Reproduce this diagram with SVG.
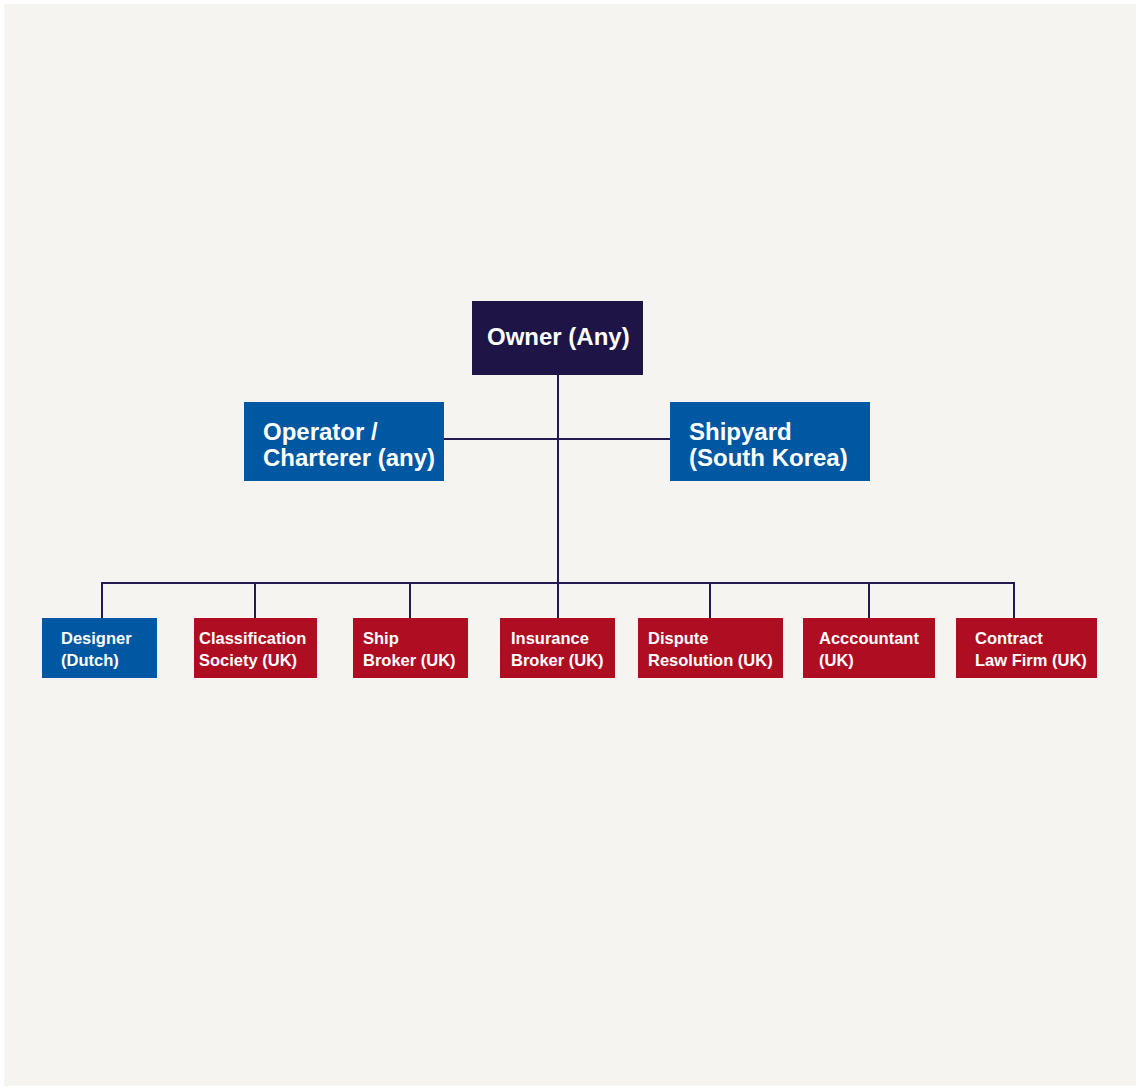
<svg xmlns="http://www.w3.org/2000/svg" width="1137" height="1088" viewBox="0 0 1137 1088">
<style>
.bg{fill:#f5f4f1}
.navy{fill:#1e1446}
.blue{fill:#0058a3}
.red{fill:#ae0d22}
.t{font-family:"Liberation Sans",Arial,sans-serif;font-weight:bold;fill:#ffffff}
.big{font-size:24px}
.sm{font-size:16.5px}
.ln{stroke:#231a4f;stroke-width:2;fill:none}
</style>
<rect x="0" y="0" width="1137" height="1088" fill="#ffffff"/>
<rect class="bg" x="4" y="4" width="1132" height="1082"/>
<g id="connectors">
<line class="ln" x1="558" y1="374" x2="558" y2="583"/>
<line class="ln" x1="443" y1="439" x2="670" y2="439"/>
<polyline class="ln" points="102,618 102,583 1014,583 1014,618"/>
<line class="ln" x1="255" y1="583" x2="255" y2="618"/>
<line class="ln" x1="410" y1="583" x2="410" y2="618"/>
<line class="ln" x1="558" y1="583" x2="558" y2="618"/>
<line class="ln" x1="710" y1="583" x2="710" y2="618"/>
<line class="ln" x1="869" y1="583" x2="869" y2="618"/>
</g>
<g id="owner">
<rect class="navy" x="472" y="301" width="171" height="74"/>
<text class="t big" x="487" y="345">Owner (Any)</text>
</g>
<g id="operator">
<rect class="blue" x="244" y="402" width="200" height="79"/>
<text class="t big" x="263" y="440">Operator /</text>
<text class="t big" x="263" y="466">Charterer (any)</text>
</g>
<g id="shipyard">
<rect class="blue" x="670" y="402" width="200" height="79"/>
<text class="t big" x="689" y="440">Shipyard</text>
<text class="t big" x="689" y="466">(South Korea)</text>
</g>
<g id="designer">
<rect class="blue" x="42" y="618" width="115" height="60"/>
<text class="t sm" x="61" y="644">Designer</text>
<text class="t sm" x="61" y="666">(Dutch)</text>
</g>
<g id="classification">
<rect class="red" x="194" y="618" width="123" height="60"/>
<text class="t sm" x="199" y="644">Classification</text>
<text class="t sm" x="199" y="666">Society (UK)</text>
</g>
<g id="shipbroker">
<rect class="red" x="353" y="618" width="115" height="60"/>
<text class="t sm" x="363" y="644">Ship</text>
<text class="t sm" x="363" y="666">Broker (UK)</text>
</g>
<g id="insurance">
<rect class="red" x="500" y="618" width="115" height="60"/>
<text class="t sm" x="511" y="644">Insurance</text>
<text class="t sm" x="511" y="666">Broker (UK)</text>
</g>
<g id="dispute">
<rect class="red" x="638" y="618" width="145" height="60"/>
<text class="t sm" x="648" y="644">Dispute</text>
<text class="t sm" x="648" y="666">Resolution (UK)</text>
</g>
<g id="accountant">
<rect class="red" x="803" y="618" width="132" height="60"/>
<text class="t sm" x="819" y="644">Acccountant</text>
<text class="t sm" x="819" y="666">(UK)</text>
</g>
<g id="contract">
<rect class="red" x="956" y="618" width="141" height="60"/>
<text class="t sm" x="975" y="644">Contract</text>
<text class="t sm" x="975" y="666">Law Firm (UK)</text>
</g>
</svg>
